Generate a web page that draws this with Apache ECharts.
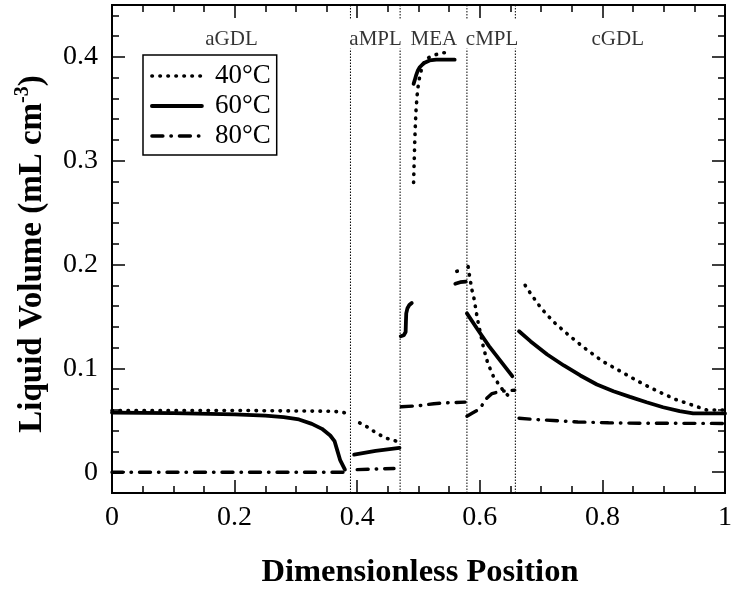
<!DOCTYPE html>
<html>
<head>
<meta charset="utf-8">
<script src="https://cdn.jsdelivr.net/npm/echarts@6/dist/echarts.min.js"></script>
<style>html,body{margin:0;padding:0;background:#fff}#c{width:735px;height:590px}</style>
</head>
<body>
<div id="c"></div>
<script>
// ---- data ----
const seriesNames = ['40°C', '60°C', '80°C'];
const layerNames = ['aGDL', 'aMPL', 'MEA', 'cMPL', 'cGDL'];
const layerLabelX = [0.195, 0.430, 0.525, 0.620, 0.825];
const layerLabelY = 0.417;
const boundaries = [0.389, 0.470, 0.579, 0.658];
const xTicks = [0, 0.2, 0.4, 0.6, 0.8, 1];
const yMajorTicks = [0, 0.1, 0.2, 0.3, 0.4];
const yMinorTicks = [-0.02, 0.02, 0.04, 0.06, 0.08, 0.12, 0.14, 0.16, 0.18, 0.22, 0.24, 0.26, 0.28, 0.32, 0.34, 0.36, 0.38, 0.42, 0.44];

// 40 °C
const t40_aGDL = [[0, 0.0595], [0.1, 0.0595], [0.2, 0.0595], [0.3, 0.059], [0.35, 0.0588], [0.37, 0.0583], [0.382, 0.057]];
const t40_aMPL = [[0.404, 0.0475], [0.417, 0.0434], [0.428, 0.039], [0.441, 0.0347], [0.452, 0.0318], [0.466, 0.0296]];
const t40_MEA = [[0.492, 0.279], [0.4925, 0.29], [0.493, 0.30], [0.494, 0.3205], [0.495, 0.3366], [0.496, 0.349], [0.4976, 0.362], [0.499, 0.370], [0.501, 0.378], [0.504, 0.386], [0.507, 0.393], [0.515, 0.399], [0.527, 0.402], [0.540, 0.404], [0.552, 0.404]];
const t40_CCL = [[0.5625, 0.1935], [0.566, 0.194]];
const t40_cMPL = [[0.581, 0.198], [0.583, 0.190], [0.587, 0.176], [0.590, 0.169], [0.592, 0.1625], [0.596, 0.148], [0.601, 0.134], [0.606, 0.120], [0.613, 0.105], [0.622, 0.0925], [0.630, 0.0855], [0.639, 0.078], [0.651, 0.071]];
const t40_cGDL = [[0.674, 0.180], [0.683, 0.172], [0.700, 0.158], [0.720, 0.145], [0.745, 0.132], [0.770, 0.120], [0.800, 0.107], [0.830, 0.097], [0.860, 0.087], [0.890, 0.078], [0.920, 0.070], [0.950, 0.064], [0.970, 0.060], [1.0, 0.060]];

// 60 °C
const t60_aGDL = [[0, 0.0575], [0.1, 0.057], [0.2, 0.0558], [0.25, 0.0545], [0.28, 0.053], [0.305, 0.0508], [0.326, 0.0466], [0.3425, 0.0418], [0.356, 0.0354], [0.363, 0.030], [0.367, 0.022], [0.372, 0.012], [0.380, 0.0026]];
const t60_aMPL = [[0.395, 0.017], [0.43, 0.0205], [0.469, 0.0235]];
const t60_ACL = [[0.471, 0.131], [0.476, 0.132], [0.479, 0.135], [0.4795, 0.145], [0.480, 0.153], [0.482, 0.158], [0.485, 0.161], [0.489, 0.163]];
const t60_MEA = [[0.492, 0.374], [0.4945, 0.379], [0.4965, 0.383], [0.499, 0.387], [0.502, 0.390], [0.506, 0.3925], [0.510, 0.3944], [0.518, 0.3966], [0.529, 0.3973], [0.559, 0.3973]];
const t60_CCL = [[0.560, 0.1815], [0.568, 0.183], [0.577, 0.1835]];
const t60_cMPL = [[0.579, 0.153], [0.597, 0.137], [0.615, 0.1215], [0.634, 0.107], [0.653, 0.0925]];
const t60_cGDL = [[0.664, 0.1358], [0.683, 0.126], [0.710, 0.1134], [0.737, 0.1028], [0.764, 0.0932], [0.791, 0.0845], [0.818, 0.078], [0.845, 0.0726], [0.872, 0.0674], [0.899, 0.0626], [0.926, 0.0588], [0.948, 0.0566], [0.969, 0.0566], [1.0, 0.0566]];

// 80 °C
const t80_aGDL = [[0, 0], [0.38, 0]];
const t80_aMPL = [[0.40, 0.0025], [0.46, 0.0036]];
const t80_MEA = [[0.472, 0.063], [0.50, 0.064], [0.525, 0.066], [0.55, 0.067], [0.576, 0.0675]];
const t80_cMPL = [[0.579, 0.054], [0.588, 0.057], [0.60, 0.061], [0.61, 0.0705], [0.62, 0.0758], [0.635, 0.078], [0.657, 0.079]];
const t80_cGDL = [[0.664, 0.052], [0.69, 0.0508], [0.72, 0.0498], [0.76, 0.0484], [0.81, 0.0476], [0.86, 0.0472], [1.0, 0.047]];

// ---- styles ----
const FONT = 'Liberation Serif';
const styles = {
  '40°C': { color: '#000', width: 3.6, type: [0.5, 7.5], cap: 'round' },
  '60°C': { color: '#000', width: 3.8, type: 'solid', cap: 'round' },
  '80°C': { color: '#000', width: 3.4, type: [11, 8, 0.5, 8], cap: 'round' }
};
const pieces = {
  '40°C': [t40_aGDL, t40_aMPL, t40_MEA, t40_CCL, t40_cMPL, t40_cGDL],
  '60°C': [t60_aGDL, t60_aMPL, t60_ACL, t60_MEA, t60_CCL, t60_cMPL, t60_cGDL],
  '80°C': [t80_aGDL, t80_aMPL, t80_MEA, t80_cMPL, t80_cGDL]
};

const series = [];
// boundaries (thin dotted verticals, broken under the layer labels)
boundaries.forEach(b => {
  [[-0.02, 0.408], [0.437, 0.45]].forEach(r => {
    series.push({
      type: 'line', name: 'boundary', silent: true, symbol: 'none', animation: false,
      data: [[b, r[0]], [b, r[1]]],
      lineStyle: { color: '#000', width: 1, type: [1.5, 1.5] }, z: 1
    });
  });
});
seriesNames.forEach(n => {
  pieces[n].forEach(d => {
    series.push({
      type: 'line', name: n, data: d, symbol: 'none', showSymbol: false,
      lineStyle: styles[n], itemStyle: { color: '#000' }, animation: false, z: 3
    });
  });
});
series.push({
  type: 'scatter', name: 'layers', silent: true, symbolSize: 0,
  data: layerNames.map((t, i) => ({ name: t, value: [layerLabelX[i], layerLabelY] })),
  label: { show: true, position: 'inside', formatter: p => p.name, color: '#000', fontFamily: FONT, fontSize: 21 }
});

const majorTick = { show: true, inside: true, length: 13, lineStyle: { color: '#000', width: 1.5 } };
const minorTick = { show: true, splitNumber: 4, length: 7, lineStyle: { color: '#000', width: 1.5 } };
const xBase = (pos, showLabel) => ({
  type: 'value', min: 0, max: 1, interval: 0.2, position: pos,
  axisLine: { show: true, onZero: false, lineStyle: { color: '#000', width: 2 } },
  axisTick: majorTick, minorTick: minorTick,
  splitLine: { show: false }, minorSplitLine: { show: false },
  axisLabel: { show: showLabel, color: '#000', fontFamily: FONT, fontSize: 28, margin: 11 }
});
const yBase = (pos, values, len, showLabel) => ({
  type: 'value', min: -0.02, max: 0.45, position: pos,
  axisLine: { show: true, onZero: false, lineStyle: { color: '#000', width: 2 } },
  axisTick: { show: true, inside: true, length: len, customValues: values, lineStyle: { color: '#000', width: 1.5 } },
  splitLine: { show: false },
  axisLabel: { show: showLabel, customValues: values, color: '#000', fontFamily: FONT, fontSize: 28, margin: 14 }
});

const option = {
  backgroundColor: '#fff',
  animation: false,
  grid: { left: 112, right: 6, top: 5, bottom: 97, containLabel: false },
  xAxis: [xBase('bottom', true), xBase('top', false)],
  yAxis: [
    yBase('left', yMajorTicks, 13, true),
    yBase('left', yMinorTicks, 7, false),
    yBase('right', yMajorTicks, 13, false),
    yBase('right', yMinorTicks, 7, false)
  ],
  legend: {
    data: seriesNames.map(n => ({ name: n, lineStyle: { width: styles[n].width, type: styles[n].type, cap: 'round', color: '#000' } })),
    orient: 'vertical', left: 143, top: 55,
    borderColor: '#000', borderWidth: 1.5, borderRadius: 0,
    padding: [6, 6, 4, 7], itemGap: 0, itemWidth: 50, itemHeight: 30,
    selectedMode: false,
    itemStyle: { opacity: 0 },
    lineStyle: { width: 3.6, cap: 'round' },
    textStyle: { color: '#000', fontFamily: FONT, fontSize: 27, padding: [0, 0, 0, 8], lineHeight: 30 }
  },
  graphic: [
    {
      type: 'text', x: 32, y: 254, rotation: Math.PI / 2,
      style: {
        text: '{a|Liquid Volume (mL cm}{s|-3}{a|)}',
        align: 'center', verticalAlign: 'middle', fill: '#000',
        rich: {
          a: { fontFamily: FONT, fontWeight: 'bold', fontSize: 33, fill: '#000', lineHeight: 38 },
          s: { fontFamily: FONT, fontWeight: 'bold', fontSize: 20, fill: '#000', verticalAlign: 'top', lineHeight: 38 }
        }
      }
    },
    {
      type: 'text', x: 420, y: 573,
      style: { text: 'Dimensionless Position', align: 'center', verticalAlign: 'middle', fill: '#000', font: 'bold 32.5px "Liberation Serif"' }
    }
  ],
  series: series
};
const chart = echarts.init(document.getElementById('c'), null, { renderer: 'canvas' });
chart.setOption(option);
</script>
</body>
</html>
